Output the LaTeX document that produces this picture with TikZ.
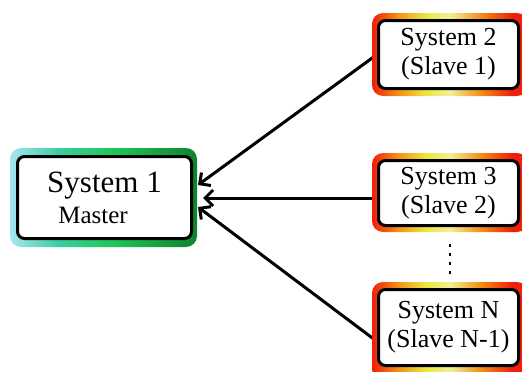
\documentclass[tikz,border=0pt]{standalone}
\usepackage{fontspec}
\setmainfont{Liberation Serif}
\usetikzlibrary{arrows.meta,calc,backgrounds}
\definecolor{mcyan}{RGB}{165,230,240}
\definecolor{mmid}{RGB}{60,205,160}
\definecolor{mgreen}{RGB}{30,200,90}
\definecolor{mdark}{RGB}{15,130,45}
\definecolor{sred}{RGB}{240,30,10}
\definecolor{sorange}{RGB}{245,140,20}
\definecolor{syellow}{RGB}{235,230,60}
\definecolor{slight}{RGB}{240,240,150}
\pgfdeclarehorizontalshading{slaveshade}{100bp}{color(0bp)=(sred); color(25bp)=(sred); color(33bp)=(sorange); color(42bp)=(syellow); color(50bp)=(slight); color(60bp)=(sorange); color(70bp)=(sred); color(100bp)=(sred)}
\pgfdeclarehorizontalshading{mastershade}{100bp}{color(0bp)=(mcyan); color(25bp)=(mcyan); color(38bp)=(mmid); color(52bp)=(mgreen); color(75bp)=(mdark); color(100bp)=(mdark)}
\begin{document}
\begin{tikzpicture}[x=1pt,y=-1pt,
  box/.style={draw=black, line width=3pt, fill=white, rounded corners=7pt, inner sep=0pt, align=center},
  slavebox/.style={box, minimum width=140pt, font=\fontsize{26}{29}\selectfont},
  link/.style={line width=3pt, -{Straight Barb[length=8pt,width=16pt,line width=3pt]}},
  dots/.style={line width=2.2pt, dash pattern=on 3pt off 6pt}
]
\useasboundingbox (0,0) rectangle (522,372);
% master
\shade[shading=mastershade, rounded corners=11pt] (10,148) rectangle (197,247);
\node[box, minimum width=174pt, minimum height=82pt, font=\fontsize{31}{31}\selectfont] (m) at (104.5,197.5)
  {System 1\\{\fontsize{25}{25}\selectfont Master\hspace*{23pt}}};
% slaves
\shade[shading=slaveshade, rounded corners=11pt] (372,13) rectangle (528,96);
\node[slavebox, minimum height=68pt] (s2) at (448.5,54.5) {System 2\\(Slave 1)};
\shade[shading=slaveshade, rounded corners=11pt] (372,153) rectangle (528,232);
\node[slavebox, minimum height=65pt] (s3) at (448.5,193) {System 3\\(Slave 2)};
\shade[shading=slaveshade, rounded corners=11pt] (372,282) rectangle (528,380);
\node[slavebox, minimum height=76pt] (sN) at (448.5,327.5) {System N\\(Slave N-1)};
% dots
\coordinate (d1) at (450,244);
\coordinate (d2) at (450,276);
\draw[dots] (d1) -- (d2);
% connectors
\begin{scope}[on background layer]
\draw[link] (s2.west) -- ($(m.east)+(5,-12.5)$);
\draw[link] ($(s3.west)+(0,5)$) -- ($(m.east)+(10,0.5)$);
\draw[link] ($(sN.west)+(0,14)$) -- ($(m.east)+(5,9.5)$);
\end{scope}
\end{tikzpicture}
\end{document}
